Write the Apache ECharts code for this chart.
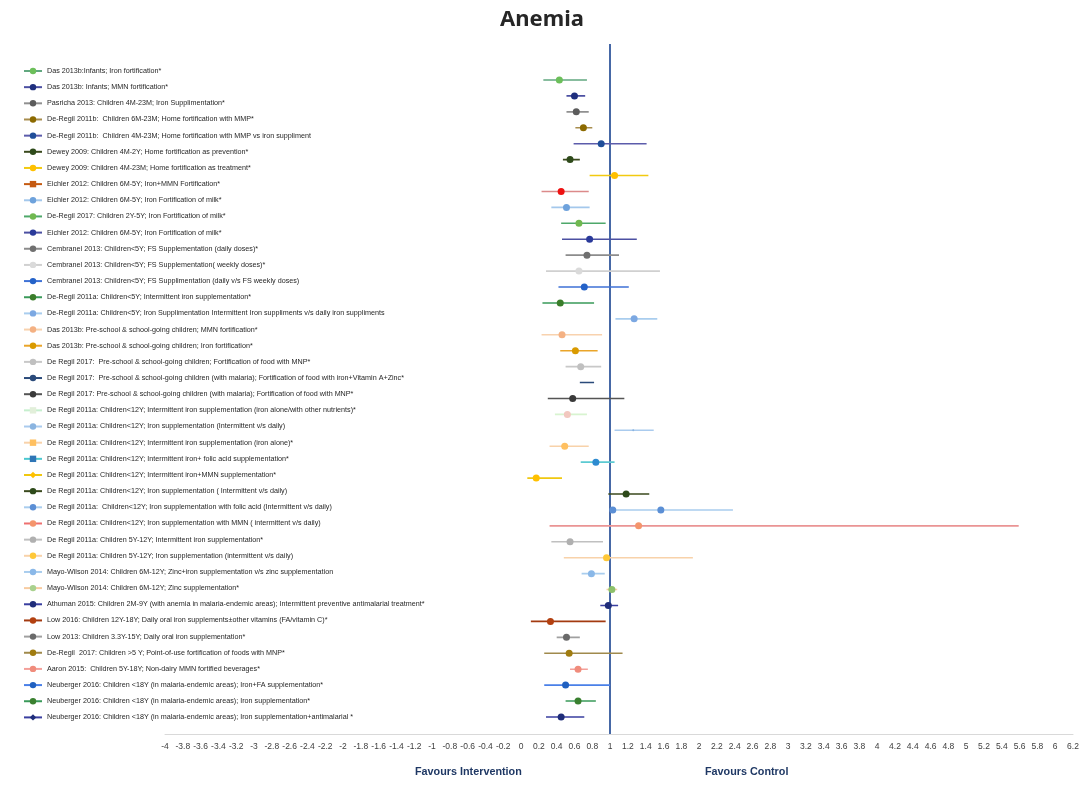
<!DOCTYPE html>
<html>
<head>
<meta charset="utf-8">
<title>Anemia</title>
<script src="https://cdn.jsdelivr.net/npm/echarts@6/dist/echarts.min.js"></script>
<style>
  html, body { margin: 0; padding: 0; background: #fff; }
  #chart { width: 1084px; height: 787px; }
</style>
</head>
<body>
<div id="chart"></div>
<script>
// studies, top to bottom
const labels = [
  'Das 2013b:Infants; Iron fortification*',
  'Das 2013b: Infants; MMN fortification*',
  'Pasricha 2013: Children 4M-23M; Iron Supplimentation*',
  'De-Regil 2011b:  Children 6M-23M; Home fortification with MMP*',
  'De-Regil 2011b:  Children 4M-23M; Home fortification with MMP vs iron suppliment',
  'Dewey 2009: Children 4M-2Y; Home fortification as prevention*',
  'Dewey 2009: Children 4M-23M; Home fortification as treatment*',
  'Eichler 2012: Children 6M-5Y; Iron+MMN Fortification*',
  'Eichler 2012: Children 6M-5Y; Iron Fortification of milk*',
  'De-Regil 2017: Children 2Y-5Y; Iron Fortification of milk*',
  'Eichler 2012: Children 6M-5Y; Iron Fortification of milk* ',
  'Cembranel 2013: Children<5Y; FS Supplementation (daily doses)*',
  'Cembranel 2013: Children<5Y; FS Supplementation( weekly doses)*',
  'Cembranel 2013: Children<5Y; FS Supplimentation (daily v/s FS weekly doses)',
  'De-Regil 2011a: Children<5Y; Intermittent iron supplementation*',
  'De-Regil 2011a: Children<5Y; Iron Supplimentation Intermittent Iron suppliments v/s daily iron suppliments',
  'Das 2013b: Pre-school & school-going children; MMN fortification*',
  'Das 2013b: Pre-school & school-going children; Iron fortification*',
  'De Regil 2017:  Pre-school & school-going children; Fortification of food with MNP*',
  'De Regil 2017:  Pre-school & school-going children (with malaria); Fortification of food with iron+Vitamin A+Zinc*',
  'De Regil 2017: Pre-school & school-going children (with malaria); Fortification of food with MNP*',
  'De Regil 2011a: Children<12Y; Intermittent iron supplementation (iron alone/with other nutrients)*',
  'De Regil 2011a: Children<12Y; Iron supplementation (Intermittent v/s daily)',
  'De Regil 2011a: Children<12Y; Intermittent iron supplementation (iron alone)*',
  'De Regil 2011a: Children<12Y; Intermittent iron+ folic acid supplementation*',
  'De Regil 2011a: Children<12Y; Intermittent iron+MMN supplementation*',
  'De Regil 2011a: Children<12Y; Iron supplementation ( Intermittent v/s daily)',
  'De Regil 2011a:  Children<12Y; Iron supplementation with folic acid (Intermittent v/s daily)',
  'De Regil 2011a: Children<12Y; Iron supplementation with MMN ( intermittent v/s daily)',
  'De Regil 2011a: Children 5Y-12Y; Intermittent iron supplementation*',
  'De Regil 2011a: Children 5Y-12Y; Iron supplementation (intermittent v/s daily)',
  'Mayo-Wilson 2014: Children 6M-12Y; Zinc+iron supplementation v/s zinc supplementation',
  'Mayo-Wilson 2014: Children 6M-12Y; Zinc supplementation*',
  'Athuman 2015: Children 2M-9Y (with anemia in malaria-endemic areas); Intermittent preventive antimalarial treatment*',
  'Low 2016: Children 12Y-18Y; Daily oral iron supplements±other vitamins (FA/vitamin C)*',
  'Low 2013: Children 3.3Y-15Y; Daily oral iron supplementation*',
  'De-Regil  2017: Children >5 Y; Point-of-use fortification of foods with MNP*',
  'Aaron 2015:  Children 5Y-18Y; Non-dairy MMN fortified beverages*',
  'Neuberger 2016: Children <18Y (in malaria-endemic areas); Iron+FA supplementation*',
  'Neuberger 2016: Children <18Y (in malaria-endemic areas); Iron supplementation*',
  'Neuberger 2016: Children <18Y (in malaria-endemic areas); Iron supplementation+antimalarial *'
]

// point estimate, lower and upper limit
const est = [0.43, 0.60, 0.62, 0.70, 0.90, 0.55, 1.05, 0.45, 0.51, 0.65,
  0.77, 0.74, 0.65, 0.71, 0.44, 1.27, 0.46, 0.61, 0.67, 0.74,
  0.58, 0.52, 1.26, 0.49, 0.84, 0.17, 1.18, 1.57, 1.32, 0.55,
  0.96, 0.79, 1.02, 0.98, 0.33, 0.51, 0.54, 0.64, 0.50, 0.64, 0.45]
const lower = [0.25, 0.51, 0.51, 0.61, 0.59, 0.47, 0.77, 0.23, 0.34, 0.45,
  0.46, 0.50, 0.28, 0.42, 0.24, 1.06, 0.23, 0.44, 0.50, 0.66,
  0.30, 0.38, 1.05, 0.32, 0.67, 0.07, 0.98, 1.03, 0.32, 0.34,
  0.48, 0.68, 0.96, 0.89, 0.11, 0.40, 0.26, 0.55, 0.26, 0.50, 0.28]
const upper = [0.74, 0.72, 0.76, 0.80, 1.41, 0.66, 1.43, 0.76, 0.77, 0.95,
  1.30, 1.10, 1.56, 1.21, 0.82, 1.53, 0.91, 0.86, 0.90, 0.82,
  1.16, 0.74, 1.49, 0.76, 1.05, 0.46, 1.44, 2.38, 5.59, 0.92,
  1.93, 0.94, 1.08, 1.09, 0.95, 0.66, 1.14, 0.75, 1.00, 0.84, 0.71]

const xTicks = { min: -4, max: 6.2, step: 0.2 }

// [line colour, marker colour, legend symbol]
const looks = [
  ['#62a880', '#6cbf5a', 'circle'],
  ['#4c50a2', '#1f2f7e', 'circle'],
  ['#909090', '#5c5c5c', 'circle'],
  ['#a88d4e', '#8c6a00', 'circle'],
  ['#5c5cab', '#1f4e99', 'circle'],
  ['#3b4a1e', '#2e4a1a', 'circle'],
  ['#f2ca10', '#ffc000', 'circle'],
  ['#dc8a8a', '#ee1111', 'rect'],
  ['#a4c8ec', '#6ea2dc', 'circle'],
  ['#4ea86a', '#70b850', 'circle'],
  ['#4c50a2', '#2a3a9a', 'circle'],
  ['#8c8c8c', '#707070', 'circle'],
  ['#d0d0d0', '#dadada', 'circle'],
  ['#3f72d6', '#2462c8', 'circle'],
  ['#3a9a5a', '#3a7d2a', 'circle'],
  ['#a9cdee', '#7ca8e2', 'circle'],
  ['#f8d2ae', '#f4b183', 'circle'],
  ['#eaa52a', '#d99a00', 'circle'],
  ['#c8c8c8', '#c0c0c0', 'circle'],
  ['#2a4a7a', '#2a4a7a', 'none'],
  ['#555555', '#3a3a3a', 'circle'],
  ['#d8f4d0', '#f2c8bf', 'rect'],
  ['#aacbee', '#8ab4e0', 'circle'],
  ['#f8d2aa', '#ffc060', 'rect'],
  ['#5ccad2', '#2e8bd0', 'rect'],
  ['#f0c810', '#ffc000', 'diamond'],
  ['#3b4a1e', '#2e4a1a', 'circle'],
  ['#a9cdee', '#5b8fd5', 'circle'],
  ['#ea9494', '#f4956c', 'circle'],
  ['#c0c0c0', '#b0b0b0', 'circle'],
  ['#f8d2aa', '#ffc838', 'circle'],
  ['#a9cdee', '#8ab8e8', 'circle'],
  ['#f8d0a4', '#8cc06a', 'circle'],
  ['#3a3fa0', '#1f2d7a', 'circle'],
  ['#a33a10', '#b34010', 'circle'],
  ['#a0a0a0', '#6a6a6a', 'circle'],
  ['#a08a4c', '#a07c10', 'circle'],
  ['#f4a09a', '#f08c7c', 'circle'],
  ['#4a80e8', '#2060c0', 'circle'],
  ['#3a9a5a', '#3a8030', 'circle'],
  ['#3a3fa0', '#1f2d7a', 'diamond']
]
// legend icons that do not share the plot colours
const legendOverride = {
  7: { line: '#c55a11', dot: '#c55a11' },
  21: { line: '#c6efce', dot: '#e2efda' },
  24: { line: '#4bc8d0', dot: '#2e75b6' },
  28: { line: '#ee7070', dot: '#f4956c' },
  32: { line: '#f8cba0', dot: '#a9d18e' }
}

const chart = echarts.init(document.getElementById('chart'))

const series = labels.map((name, i) => {
  const row = i + 1
  const [lineCol, dotCol, sym] = looks[i]
  let mid = { value: [est[i], row], symbol: 'circle', symbolSize: 7, itemStyle: { color: dotCol } }
  if (i === 19) mid = { value: [est[i], row], symbol: 'none' }
  if (i === 22) mid.symbolSize = 2
  let lo = { value: [lower[i], row], symbol: 'none' }
  // this row also shows a marker at its lower end
  if (i === 27) lo = { value: [lower[i], row], symbol: 'circle', symbolSize: 7, itemStyle: { color: dotCol } }
  const s = {
    name: name,
    type: 'line',
    symbol: sym,
    symbolSize: 6,
    showAllSymbol: true,
    lineStyle: { color: lineCol, width: 1.6 },
    itemStyle: { color: dotCol },
    emphasis: { disabled: true },
    z: 3,
    data: [lo, mid, { value: [upper[i], row], symbol: 'none' }]
  }
  if (i === 0) {
    s.markLine = {
      silent: true,
      symbol: 'none',
      label: { show: false },
      lineStyle: { color: '#4668a6', width: 2, type: 'solid' },
      data: [{ xAxis: 1 }],
      z: 1
    }
  }
  return s
})

const legendData = labels.map((name, i) => {
  const o = legendOverride[i]
  if (!o) return { name: name }
  return { name: name, itemStyle: { color: o.dot }, lineStyle: { color: o.line } }
})

chart.setOption({
  animation: false,
  title: {
    text: 'Anemia',
    left: 'center',
    top: 4,
    textStyle: { fontFamily: 'Noto Sans', fontSize: 22, fontWeight: 'bold', color: '#262626' }
  },
  legend: {
    orient: 'vertical',
    left: 23,
    top: 67,
    padding: 0,
    itemWidth: 18,
    itemHeight: 8,
    itemGap: 8.16,
    selectedMode: false,
    data: legendData,
    textStyle: { fontFamily: 'Liberation Sans', fontSize: 7.2, lineHeight: 8, color: '#262626' }
  },
  grid: { left: 165, right: 11, top: 44, bottom: 53 },
  xAxis: {
    type: 'value',
    min: xTicks.min,
    max: xTicks.max,
    interval: xTicks.step,
    axisLine: { show: true, onZero: false, lineStyle: { color: '#d9d9d9', width: 1 } },
    axisTick: { show: false },
    splitLine: { show: false },
    axisLabel: {
      interval: 0,
      hideOverlap: false,
      margin: 8,
      fontFamily: 'Liberation Sans',
      fontSize: 8.5,
      color: '#404040',
      formatter: v => String(+v.toFixed(1))
    }
  },
  yAxis: {
    type: 'value',
    inverse: true,
    min: -1.26,
    max: 42.07,
    show: false
  },
  graphic: [
    {
      type: 'text', left: 415, top: 767,
      style: { text: 'Favours Intervention', fontFamily: 'Liberation Sans', fontSize: 10.8, fontWeight: 'bold', fill: '#1f3864' }
    },
    {
      type: 'text', left: 705, top: 767,
      style: { text: 'Favours Control', fontFamily: 'Liberation Sans', fontSize: 10.8, fontWeight: 'bold', fill: '#1f3864' }
    }
  ],
  series: series
})
</script>
</body>
</html>
